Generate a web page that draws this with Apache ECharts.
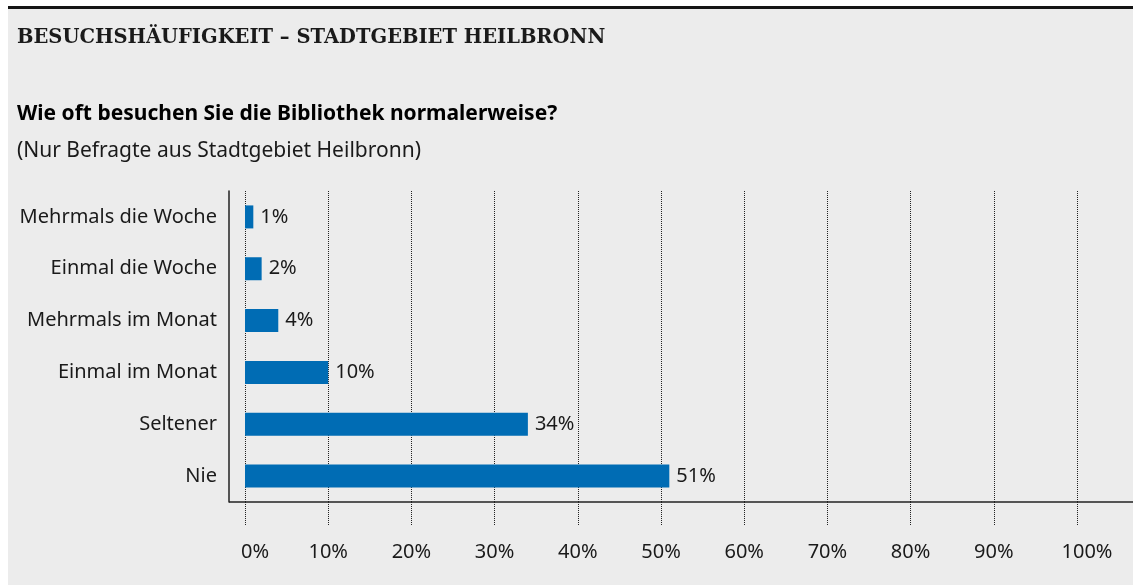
<!DOCTYPE html>
<html>
<head>
<meta charset="utf-8">
<script src="https://cdn.jsdelivr.net/npm/echarts@6/dist/echarts.min.js"></script>
<style>
    body { margin: 0; background: #fff; }
    .chart {
        position: absolute;
        left: 8px;
        top: 6px;
        width: 1125px;
        height: 579px;
        border-top: 3px solid #141414;
        background: #ececec;
    }
</style>
</head>
<body>
<div class="chart" id="chartRef"></div>
<script>
const categories = ['Mehrmals die Woche', 'Einmal die Woche', 'Mehrmals im Monat', 'Einmal im Monat', 'Seltener', 'Nie'];
const values = [1, 2, 4, 10, 34, 51];
const tickLabels = ['0%', '10%', '20%', '30%', '40%', '50%', '60%', '70%', '80%', '90%', '100%'];

const textColor = '#1a1a1a';
const sans = 'Noto Sans';

const chartOption = {
    animation: false,
    title: [
        {
            text: 'BESUCHSHÄUFIGKEIT – STADTGEBIET HEILBRONN',
            left: 9,
            top: 19,
            padding: 0,
            textStyle: { fontFamily: 'DejaVu Serif', fontWeight: 'bold', fontSize: 19.5, color: textColor }
        },
        {
            text: 'Wie oft besuchen Sie die Bibliothek normalerweise?',
            left: 9,
            top: 95,
            padding: 0,
            textStyle: { fontFamily: sans, fontWeight: 'bold', fontSize: 21, color: '#000' }
        },
        {
            text: '(Nur Befragte aus Stadtgebiet Heilbronn)',
            left: 9,
            top: 132,
            padding: 0,
            textStyle: { fontFamily: sans, fontWeight: 'normal', fontSize: 21, color: textColor }
        }
    ],
    grid: {
        left: 237,
        right: 56,
        top: 182,
        bottom: 86,
        containLabel: false
    },
    xAxis: {
        type: 'value',
        min: 0,
        max: 100,
        interval: 10,
        axisLine: { show: false },
        axisTick: {
            show: true,
            length: 23,
            lineStyle: { color: '#222', type: 'dotted', width: 1 }
        },
        splitLine: {
            show: true,
            lineStyle: { color: '#222', type: 'dotted', width: 1 }
        },
        axisLabel: {
            margin: 40,
            fontFamily: sans,
            fontSize: 20,
            color: textColor,
            formatter: (v) => {
                const t = tickLabels[Math.round(v / 10)];
                if (v === 0 || v === 100) return '{a|' + t + '}';
                return t;
            },
            rich: {
                a: { fontFamily: sans, fontSize: 20, color: textColor, padding: [0, 0, 0, 20] }
            }
        }
    },
    yAxis: {
        type: 'category',
        data: categories,
        inverse: true,
        offset: 16,
        axisLine: { show: true, onZero: false, lineStyle: { color: '#222', width: 1.5 } },
        axisTick: { show: false },
        axisLabel: {
            margin: 12,
            fontFamily: sans,
            fontSize: 20,
            color: textColor
        }
    },
    series: [
        {
            type: 'bar',
            data: values,
            barWidth: 23,
            itemStyle: { color: '#006cb4' },
            label: {
                show: true,
                position: 'right',
                distance: 7,
                formatter: '{c}%',
                fontFamily: sans,
                fontSize: 20,
                color: textColor
            }
        }
    ],
    graphic: [
        {
            type: 'line',
            shape: { x1: 221, y1: 493, x2: 1125, y2: 493 },
            style: { stroke: '#222', lineWidth: 1.5 },
            silent: true
        }
    ]
};

const lineChart = echarts.init(document.getElementById('chartRef'));
lineChart.setOption(chartOption);
</script>
</body>
</html>
